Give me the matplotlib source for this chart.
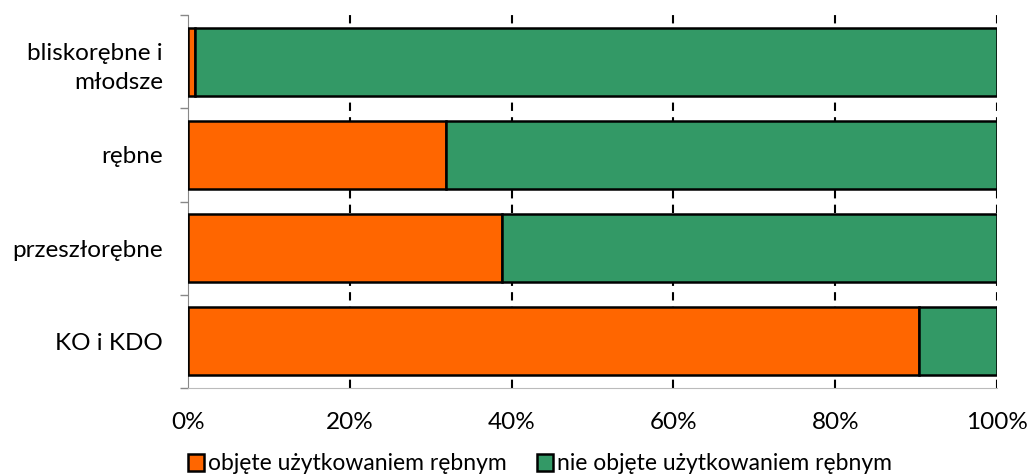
import matplotlib
matplotlib.use("Agg")
import matplotlib.pyplot as plt
import numpy as np

categories = ["bliskorębne i\nmłodsze", "rębne", "przeszłorębne", "KO i KDO"]
objete = [0.9, 31.9, 38.8, 90.4]
nie_objete = [100 - v for v in objete]
series_labels = ["objęte użytkowaniem rębnym", "nie objęte użytkowaniem rębnym"]
xticks = [0, 20, 40, 60, 80, 100]
xtick_labels = ["0%", "20%", "40%", "60%", "80%", "100%"]

plt.rcParams['font.family'] = ['Lato', 'DejaVu Sans']

fig = plt.figure(figsize=(10.31, 4.75), dpi=100)
ax = fig.add_axes([188/1031, 1-388/475, (997-188)/1031, (388-15)/475])

y = np.arange(len(categories))[::-1]
h = 0.73
ax.barh(y, objete, height=h, color="#FF6600", edgecolor="black", linewidth=1.8, label=series_labels[0], zorder=3)
ax.barh(y, nie_objete, left=objete, height=h, color="#339966", edgecolor="black", linewidth=1.8, label=series_labels[1], zorder=3)

ax.set_xlim(0, 100)
ax.set_ylim(-0.5, len(categories) - 0.5)
ax.set_xticks(xticks)
ax.set_xticklabels(xtick_labels, fontsize=17.5)
ax.set_yticks(y)
ax.set_yticklabels(categories, fontsize=17.5, linespacing=1.5)
ax.tick_params(axis='y', which='major', length=0, pad=18)
ax.set_yticks(np.arange(-0.5, len(categories)), minor=True)
ax.tick_params(axis='y', which='minor', length=6, color="#888888", width=1)
ax.tick_params(axis='x', length=0, pad=17)
for xv in xticks[1:]:
    ax.axvline(xv, color="black", linestyle=(0, (4, 3)), linewidth=1.5, zorder=1)
for s in ["top", "right"]:
    ax.spines[s].set_visible(False)
ax.spines["left"].set_color("#888888")
ax.spines["bottom"].set_color("#BBBBBB")

fig.legend(loc="center", bbox_to_anchor=(540/1031, 1-464/475), ncol=2, frameon=False,
           fontsize=16.5, handlelength=0.7, handleheight=0.7, handletextpad=0.2, columnspacing=1.3)

fig.savefig("out.png", dpi=100)
